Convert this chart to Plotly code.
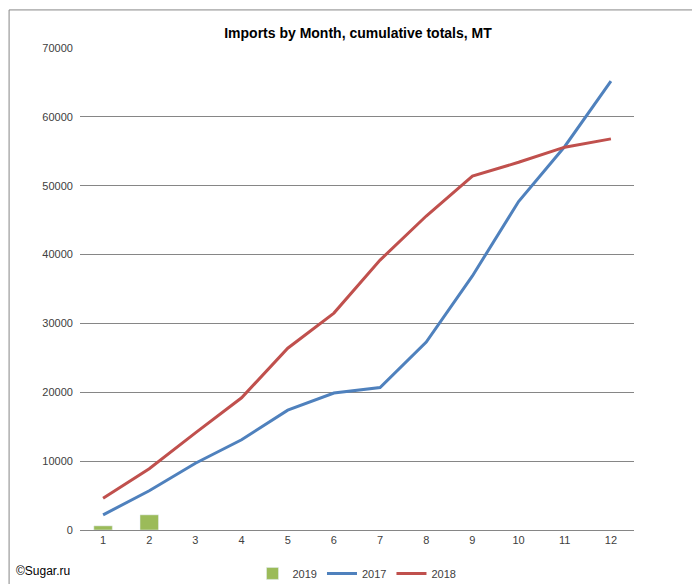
import plotly.graph_objects as go

months = list(range(1, 13))
y2019 = [600, 2200]
y2017 = [2200, 5700, 9700, 13100, 17400, 19900, 20700, 27300, 36900, 47700, 55700, 65200]
y2018 = [4600, 8900, 14100, 19200, 26400, 31500, 39200, 45600, 51400, 53400, 55600, 56800]

fig = go.Figure()
fig.add_trace(go.Bar(x=months[:2], y=y2019, name="2019", marker_color="#9BBB59", width=0.4))
fig.add_trace(go.Scatter(x=months, y=y2017, name="2017", mode="lines", line=dict(color="#4F81BD", width=3)))
fig.add_trace(go.Scatter(x=months, y=y2018, name="2018", mode="lines", line=dict(color="#C0504D", width=3)))

fig.update_layout(
    width=700, height=584, plot_bgcolor="white", paper_bgcolor="white",
    font=dict(family="Liberation Sans, Arial", size=11, color="#404040"),
    title=dict(text="<b>Imports by Month, cumulative totals, MT</b>", x=0.5, xanchor="center", y=0.965, font=dict(size=14, color="black")),
    margin=dict(l=72, r=74, t=40, b=62, autoexpand=False),
    xaxis=dict(tickmode="array", tickvals=months, range=[0.5, 12.5], showgrid=False,
               showline=True, linecolor="#868686", ticks="outside", ticklen=0),
    yaxis=dict(range=[0, 70000], dtick=10000, tickformat="d", showgrid=True, gridcolor="#868686", gridwidth=1,
               zeroline=False, showline=False, ticksuffix="  "),
    legend=dict(orientation="h", x=0.5, xanchor="center", y=-0.06, yanchor="top", font=dict(size=11)),
    shapes=[dict(type="rect", xref="paper", yref="paper", x0=-0.128, y0=-0.127, x1=1.130, y1=1.079,
                 line=dict(color="#868686", width=1))],
    annotations=[dict(text="©Sugar.ru", xref="paper", yref="paper", x=-0.12, y=-0.085, xanchor="left",
                      yanchor="middle", showarrow=False, font=dict(size=12, color="black"))],
)
fig.write_html("out.html")
